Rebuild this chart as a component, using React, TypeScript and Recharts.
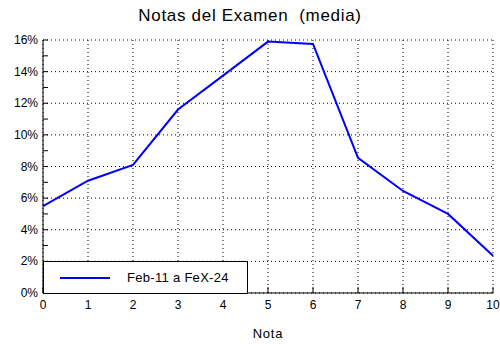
import React from 'react';
import { LineChart, Line, XAxis, YAxis, CartesianGrid } from 'recharts';

// Valores
const notas = [0, 1, 2, 3, 4, 5, 6, 7, 8, 9, 10];
const media = [5.5, 7.1, 8.1, 11.6, 13.75, 15.9, 15.75, 8.55, 6.45, 5.0, 2.35];
const xTicks = [0, 1, 2, 3, 4, 5, 6, 7, 8, 9, 10];
const yTicks = [0, 1, 2, 3, 4, 5, 6, 7, 8, 9, 10, 11, 12, 13, 14, 15, 16];
const yGrid = [0, 2, 4, 6, 8, 10, 12, 14, 16];
const yMin = 0;
const yMax = 16;
const serieName = 'Feb-11 a FeX-24';

const data = notas.map((n, i) => ({ nota: n, media: media[i] }));

const font = '"Liberation Sans", Arial, sans-serif';

const XTick = (props: any) => {
  const { x, y, payload } = props;
  return (
    <g>
      <line x1={x} x2={x} y1={y - 12} y2={y - 18} stroke="#000" />
      <text x={x} y={y + 4} textAnchor="middle" fontSize={12} fill="#000" fontFamily={font}>
        {payload.value}
      </text>
    </g>
  );
};

const YTick = (props: any) => {
  const { x, y, payload } = props;
  const major = payload.value % 2 === 0;
  return (
    <g>
      <line x1={x + 5} x2={x + 10} y1={y} y2={y} stroke="#000" />
      {major && (
        <text x={x} y={y + 4} textAnchor="end" fontSize={12} fill="#000" fontFamily={font}>
          {payload.value + '%'}
        </text>
      )}
    </g>
  );
};

// solo lineas de rejilla en los valores pares
const gridY = (props: any) => {
  const { yAxis, offset } = props;
  if (yAxis && typeof yAxis.scale === 'function') return yGrid.map((v) => yAxis.scale(v));
  if (yAxis && yAxis.scale && typeof yAxis.scale.map === 'function') return yGrid.map((v) => yAxis.scale.map(v));
  return yGrid.map((v) => offset.top + offset.height * (1 - (v - yMin) / (yMax - yMin)));
};

export default function App() {
  return (
    <div style={{ position: 'fixed', left: 0, top: 0, width: 500, height: 350, background: '#fff' }}>
      <div
        style={{
          position: 'absolute',
          left: 0,
          top: 6,
          width: 500,
          textAlign: 'center',
          fontFamily: font,
          fontSize: 17,
          letterSpacing: 0.7,
          whiteSpace: 'pre',
        }}
      >
        {'Notas del Examen  (media)'}
      </div>
      <LineChart width={500} height={350} data={data} margin={{ top: 40, right: 7, left: 0, bottom: 0 }}>
        <CartesianGrid stroke="#000" strokeDasharray="1 3" horizontalCoordinatesGenerator={gridY} />
        <XAxis
          dataKey="nota"
          type="number"
          domain={[0, 10]}
          ticks={xTicks}
          height={57}
          tickSize={0}
          tickMargin={12}
          tickLine={false}
          axisLine={{ stroke: '#000' }}
          tick={<XTick />}
          interval={0}
          label={{ value: 'Nota', position: 'insideBottom', offset: 12, fill: '#000', fontSize: 13, fontFamily: font, letterSpacing: 0.8 }}
        />
        <XAxis xAxisId="top" orientation="top" type="number" domain={[0, 10]} height={0} tick={false} tickLine={false} axisLine={{ stroke: '#000' }} />
        <YAxis
          type="number"
          domain={[yMin, yMax]}
          ticks={yTicks}
          width={43}
          tickSize={0}
          tickMargin={5}
          tickLine={false}
          axisLine={{ stroke: '#000' }}
          tick={<YTick />}
          interval={0}
        />
        <YAxis yAxisId="right" orientation="right" type="number" domain={[yMin, yMax]} width={0} tick={false} tickLine={false} axisLine={{ stroke: '#000' }} />
        <Line
          type="linear"
          dataKey="media"
          name={serieName}
          stroke="#0000ff"
          strokeWidth={2}
          dot={false}
          isAnimationActive={false}
        />
      </LineChart>
      <div
        style={{
          position: 'absolute',
          left: 43,
          top: 261,
          width: 205,
          height: 33,
          border: '1px solid #000',
          background: '#fff',
          boxSizing: 'border-box',
          display: 'flex',
          alignItems: 'center',
          fontFamily: font,
          fontSize: 13,
          letterSpacing: 0.3,
        }}
      >
        <div style={{ width: 50, height: 2, background: '#0000ff', marginLeft: 16, marginRight: 17 }} />
        <span>{serieName}</span>
      </div>
    </div>
  );
}
